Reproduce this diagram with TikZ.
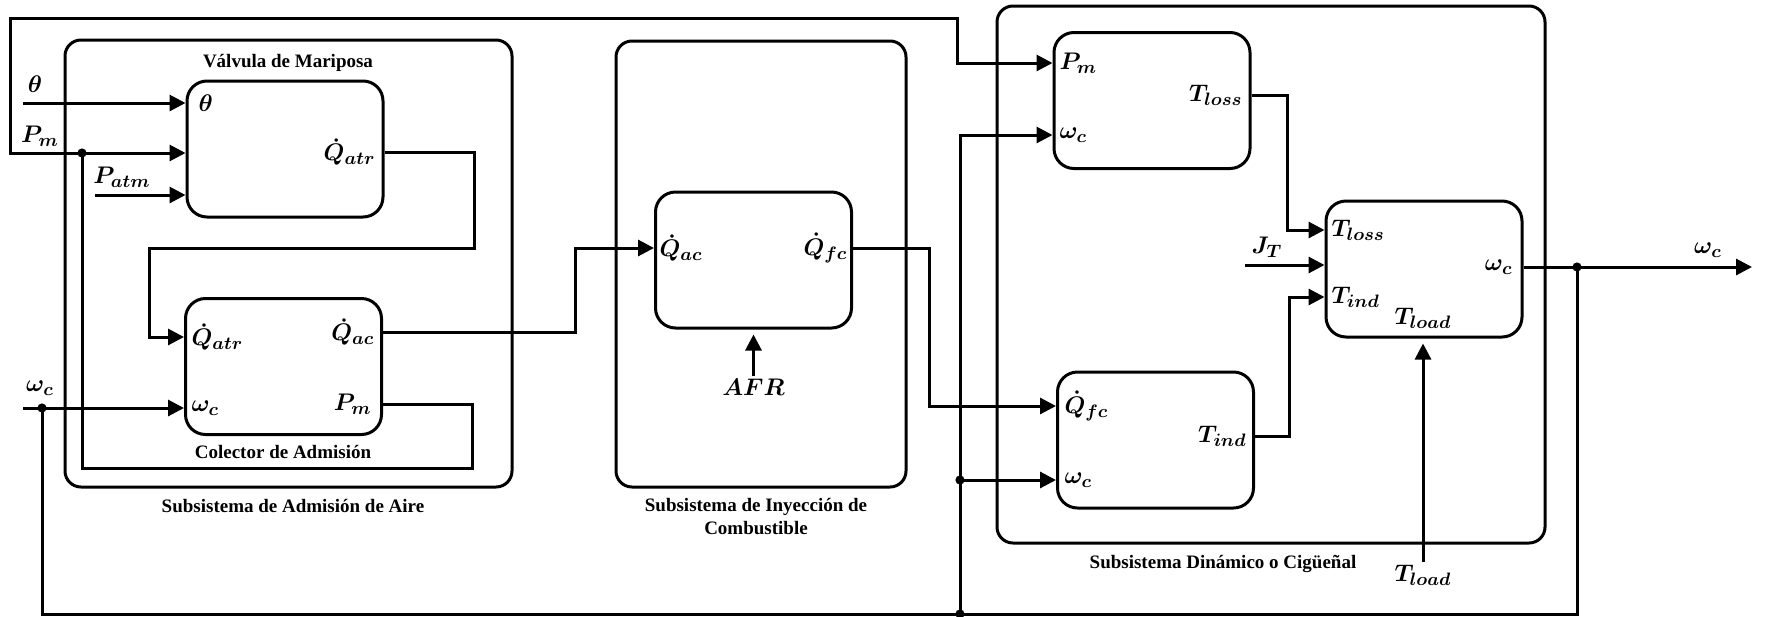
\documentclass[tikz,border=0pt]{standalone}
\usepackage{amsmath, amssymb}
\usepackage{fontspec}
\setmainfont{Liberation Serif}
\usepackage{tikz}
\usetikzlibrary{arrows.meta, positioning, calc}

\begin{document}
\begin{tikzpicture}[
    x=0.5pt, y=-0.5pt,
    line width=1.5pt,
    block/.style={draw, rectangle, rounded corners=10pt, minimum width=98pt, minimum height=68pt, inner sep=0pt},
    subsys/.style={draw, rectangle, rounded corners=8pt, inner sep=0pt},
    port/.style={inner sep=0.5pt, font=\boldmath\fontsize{12.5}{14}\selectfont},
    caption/.style={font=\bfseries\fontsize{9.5}{11.5}\selectfont, align=center, inner sep=0pt},
    arrow/.style={-{Triangle[length=8pt,width=8pt]}}
]
\useasboundingbox (0,0) rectangle (1766,616);

% Subsystem frames
\node[subsys, minimum width=223.5pt, minimum height=223.5pt] (airsys) at (288.5,263.5) {};
\node[subsys, minimum width=145pt, minimum height=223pt] (injsys) at (761,264) {};
\node[subsys, minimum width=274pt, minimum height=268.5pt] (dynsys) at (1271,274.5) {};

% Blocks
\node[block] (valve) at (285,149) {};
\node[block] (colector) at (283.5,366.5) {};
\node[block] (inject) at (753.5,260) {};
\node[block] (losses) at (1152,100.5) {};
\node[block] (torque) at (1155.5,440) {};
\node[block] (crank) at (1424,269) {};

% Captions
\node[caption] (valvecap) at (288,63) {Válvula de Mariposa};
\node[caption] (colcap) at (283,452) {Colector de Admisión};
\node[caption] (aircap) at (293,506) {Subsistema de Admisión de Aire};
\node[caption] (injcap) at (756,517) {Subsistema de Inyección de\\Combustible};
\node[caption] (dyncap) at (1223,564) {Subsistema Dinámico o Cigüeñal};

% Port labels inside the blocks
\node[port, anchor=west] (vth) at (196,103) {$\theta$};
\node[port, anchor=east] (vqatr) at (378,152) {$\dot{Q}_{atr}$};
\node[port, anchor=west] (cqatr) at (189,337) {$\dot{Q}_{atr}$};
\node[port, anchor=west] (cwc) at (189,408) {$\omega_c$};
\node[port, anchor=east] (cqac) at (377,332) {$\dot{Q}_{ac}$};
\node[port, anchor=east] (cpm) at (374,404) {$P_m$};
\node[port, anchor=west] (iqac) at (657,248) {$\dot{Q}_{ac}$};
\node[port, anchor=east] (iqfc) at (850,248) {$\dot{Q}_{fc}$};
\node[port, anchor=west] (lpm) at (1057,63) {$P_m$};
\node[port, anchor=west] (lwc) at (1057,135) {$\omega_c$};
\node[port, anchor=east] (ltl) at (1245,95) {$T_{loss}$};
\node[port, anchor=west] (tqfc) at (1062,406) {$\dot{Q}_{fc}$};
\node[port, anchor=west] (twc) at (1062,480) {$\omega_c$};
\node[port, anchor=east] (tti) at (1249,436) {$T_{ind}$};
\node[port, anchor=west] (ktl) at (1329,230) {$T_{loss}$};
\node[port, anchor=west] (kti) at (1329,297) {$T_{ind}$};
\node[port] (ktld) at (1423,318) {$T_{load}$};
\node[port, anchor=east] (kwc) at (1515,267) {$\omega_c$};

% Outside signal labels
\node[port] (thlab) at (35,84) {$\theta$};
\node[port] (pmlab) at (40,136) {$P_m$};
\node[port] (patmlab) at (122,177) {$P_{atm}$};
\node[port] (wclab) at (40,388) {$\omega_c$};
\node[port] (afr) at (753.5,387) {$AFR$};
\node[port] (jtlab) at (1267,247) {$J_T$};
\node[port] (tload) at (1423,575) {$T_{load}$};
\node[port] (wcout) at (1708,250) {$\omega_c$};

% Free ends and junctions
\coordinate (thIn) at (23,103);
\coordinate (pmJ) at (82,153);
\coordinate (patmIn) at (95,195);
\coordinate (wcIn) at (23,408);
\coordinate (wcJ) at (42,408);
\coordinate (fbTop) at (957,18);
\coordinate (jtIn) at (1245,265);
\coordinate (outJ) at (1577,267);
\coordinate (outEnd) at (1752,267);
\coordinate (botJ) at (960,614);
\coordinate (indJ) at (960,480);

% Connections
\draw[arrow] (thIn) -- (valve.west |- vth);
\draw[arrow] (pmJ) -- (valve.west |- pmJ);
\draw[arrow] (patmIn) -- (valve.west |- patmIn);
\draw[arrow] (valve.east |- vqatr) -- ++(90,0) -- ++(0,96) -| ++(-325,89) -- (colector.west |- cqatr);
\draw[arrow] (wcIn) -- (colector.west |- cwc);
\draw (colector.east |- cpm) -- ++(89,0) -- ++(0,64) -| (pmJ);
\draw[arrow] (pmJ) -- ++(-72,0) |- (fbTop) |- (losses.west |- lpm);
\draw[arrow] (colector.east |- cqac) -- ++(192,0) |- (inject.west |- iqac);
\draw[arrow] (inject.east |- iqfc) -- ++(76,0) |- (torque.west |- tqfc);
\draw[arrow, shorten >=2.5pt] (afr) -- (afr |- inject.south);
\draw[arrow] (losses.east |- ltl) -- ++(36,0) |- (crank.west |- ktl);
\draw[arrow] (jtIn) -- (crank.west |- jtIn);
\draw[arrow] (torque.east |- tti) -- ++(34,0) |- (crank.west |- kti);
\draw[arrow, shorten >=2.5pt] (tload) -- (tload |- crank.south);
\draw[arrow] (crank.east |- kwc) -- (outEnd);
\draw (outJ) |- (botJ) -| (wcJ);
\draw[arrow] (botJ) |- (losses.west |- lwc);
\draw[arrow] (indJ) -- (torque.west |- twc);

\foreach \p in {pmJ, wcJ, indJ, botJ, outJ}
    \fill (\p) circle (2.3pt);

\end{tikzpicture}
\end{document}
